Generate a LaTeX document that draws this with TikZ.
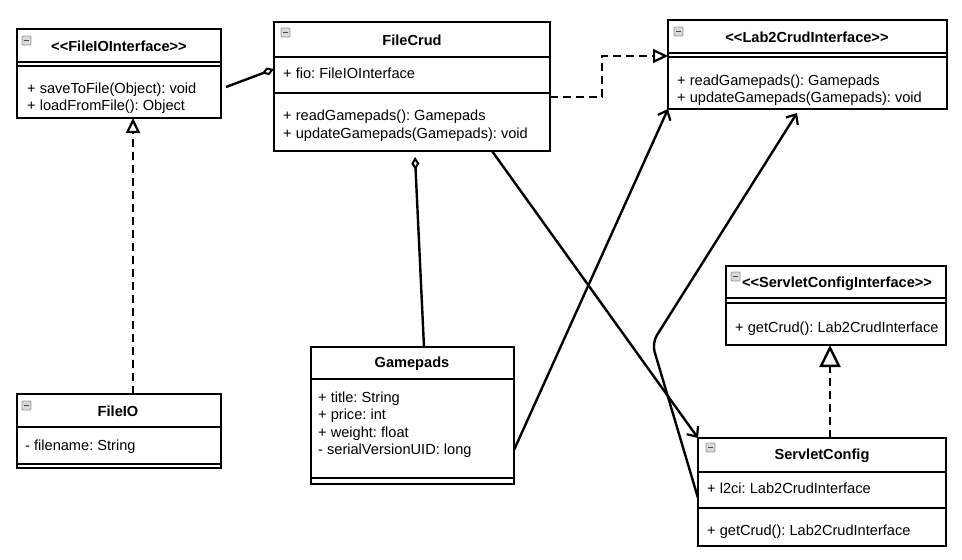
\documentclass[tikz,border=0pt]{standalone}
\usepackage{fontspec}
\setmainfont{Liberation Sans}
\usetikzlibrary{arrows.meta}
\frenchspacing
% collapse icon in the top-left corner of a class box (x, y = top-left, y downward)
\newcommand{\collapseicon}[2]{%
  \filldraw[draw=gray!80, fill=gray!30, line width=0.8pt, rounded corners=1pt]
    (#1,-#2) rectangle ++(9,-9);
  \draw[line width=1.5pt, black!70] (#1+2,-#2-4.5) -- ++(5,0);
}
\begin{document}
\begin{tikzpicture}[x=1pt,y=1pt,
  umlbox/.style={draw, line width=2pt, fill=white, inner sep=0pt, outer sep=0pt, anchor=north west},
  sep/.style={line width=2pt},
  title/.style={font=\fontsize{14.6}{16}\selectfont\bfseries, inner sep=0pt},
  mem/.style={font=\fontsize{14.6}{16}\selectfont, inner sep=0pt, anchor=base west},
  conn/.style={line width=2.4pt},
  realize/.style={conn, dash pattern=on 8pt off 5pt,
    -{Triangle[length=15pt, width=14pt, fill=white, line width=2.2pt]}},
  bigrealize/.style={conn, dash pattern=on 8pt off 5pt,
    -{Triangle[length=22pt, width=21pt, fill=white, line width=2.4pt]}},
  assoc/.style={conn, -{Straight Barb[length=8pt, width=14pt, line width=2.2pt]}},
  aggr/.style={conn, -{Diamond[length=13pt, width=8pt, fill=white, line width=2pt]}}
]
\fill[white] (0,0) rectangle (962,-560);
\useasboundingbox (0,0) rectangle (962,-560);

% ---------- <<FileIOInterface>>
\node[umlbox, minimum width=204pt, minimum height=89pt] (fioi) at (17,-29) {};
\draw[sep] (fioi.west |- 0,-62) -- (fioi.east |- 0,-62);
\draw[sep] (fioi.west |- 0,-66) -- (fioi.east |- 0,-66);
\node[title] (fioiT) at (119,-46) {<{}<FileIOInterface>{}>};
\node[mem] (fioiM1) at (27,-93) {+ saveToFile(Object): void};
\node[mem] (fioiM2) at (27,-110) {+ loadFromFile(): Object};
\collapseicon{22}{36}

% ---------- FileCrud
\node[umlbox, minimum width=276pt, minimum height=129pt] (fcrud) at (274,-22) {};
\draw[sep] (fcrud.west |- 0,-57) -- (fcrud.east |- 0,-57);
\draw[sep] (fcrud.west |- 0,-93) -- (fcrud.east |- 0,-93);
\node[title] (fcrudT) at (412,-40) {FileCrud};
\node[mem] (fcrudA1) at (283,-78) {+ fio: FileIOInterface};
\node[mem] (fcrudM1) at (283,-120) {+ readGamepads(): Gamepads};
\node[mem] (fcrudM2) at (283,-138) {+ updateGamepads(Gamepads): void};
\collapseicon{281}{28}

% ---------- <<Lab2CrudInterface>>
\node[umlbox, minimum width=279pt, minimum height=89pt] (lab2) at (668,-20) {};
\draw[sep] (lab2.west |- 0,-53) -- (lab2.east |- 0,-53);
\draw[sep] (lab2.west |- 0,-57) -- (lab2.east |- 0,-57);
\node[title] (lab2T) at (807,-37) {<{}<Lab2CrudInterface>{}>};
\node[mem] (lab2M1) at (677,-85) {+ readGamepads(): Gamepads};
\node[mem] (lab2M2) at (677,-102) {+ updateGamepads(Gamepads): void};
\collapseicon{674}{27}

% ---------- FileIO
\node[umlbox, minimum width=204pt, minimum height=74pt] (fio) at (17,-394) {};
\draw[sep] (fio.west |- 0,-427) -- (fio.east |- 0,-427);
\draw[sep] (fio.west |- 0,-464) -- (fio.east |- 0,-464);
\node[title] (fioT) at (118,-411) {FileIO};
\node[mem] (fioA1) at (25,-450) {- filename: String};
\collapseicon{22}{401}

% ---------- Gamepads
\node[umlbox, minimum width=203pt, minimum height=137pt] (gp) at (311,-347) {};
\draw[sep] (gp.west |- 0,-379) -- (gp.east |- 0,-379);
\draw[sep] (gp.west |- 0,-478) -- (gp.east |- 0,-478);
\node[title] (gpT) at (412,-364) {Gamepads};
\node[mem] (gpA1) at (318,-402) {+ title: String};
\node[mem] (gpA2) at (318,-419) {+ price: int};
\node[mem] (gpA3) at (318,-437) {+ weight: float};
\node[mem] (gpA4) at (318,-454) {- serialVersionUID: long};

% ---------- <<ServletConfigInterface>>
\node[umlbox, minimum width=220pt, minimum height=79pt] (sci) at (726,-266) {};
\draw[sep] (sci.west |- 0,-298) -- (sci.east |- 0,-298);
\draw[sep] (sci.west |- 0,-303) -- (sci.east |- 0,-303);
\node[title] (sciT) at (837,-284) {<{}<ServletConfigInterface>{}>};
\node[mem] (sciM1) at (735,-332) {+ getCrud(): Lab2CrudInterface};
\collapseicon{731}{272}

% ---------- ServletConfig
\node[umlbox, minimum width=248pt, minimum height=108pt] (sc) at (698,-438) {};
\draw[sep] (sc.west |- 0,-472) -- (sc.east |- 0,-472);
\draw[sep] (sc.west |- 0,-508) -- (sc.east |- 0,-508);
\node[title] (scT) at (822,-456) {ServletConfig};
\node[mem] (scA1) at (707,-493) {+ l2ci: Lab2CrudInterface};
\node[mem] (scM1) at (707,-535) {+ getCrud(): Lab2CrudInterface};
\collapseicon{706}{443}

% ---------- connectors
\coordinate (fioiOut) at (226,-87);
\coordinate (fcrudBot) at (415,-157);
\coordinate (lab2Bot) at (797,-113);
\coordinate (bendSc) at (652,-343);

% FileCrud aggregates FileIOInterface
\draw[aggr] (fioiOut) -- (fcrud.west |- 0,-69);
% FileIO realizes FileIOInterface
\draw[realize] (fio.north -| 133,0) -- (fioi.south -| 133,0);
% FileCrud realizes Lab2CrudInterface
\draw[realize] (fcrud.east |- 0,-97) -- (602,-97) -- (602,-56) -- (lab2.west |- 0,-56);
% FileCrud aggregates Gamepads
\draw[aggr] (gp.north -| 424,0) -- (fcrudBot);
% Gamepads uses Lab2CrudInterface
\draw[assoc] (gp.east |- 0,-450) -- (lab2.south west);
% FileCrud -> ServletConfig
\draw[assoc] (fcrud.south -| 492,0) -- (sc.north west);
% ServletConfig -> Lab2CrudInterface
\draw[assoc, rounded corners=9pt] (sc.west |- 0,-498) -- (bendSc) -- (lab2Bot);
% ServletConfig realizes ServletConfigInterface
\draw[bigrealize] (sc.north -| 830,0) -- (sci.south -| 830,0);
\end{tikzpicture}
\end{document}
